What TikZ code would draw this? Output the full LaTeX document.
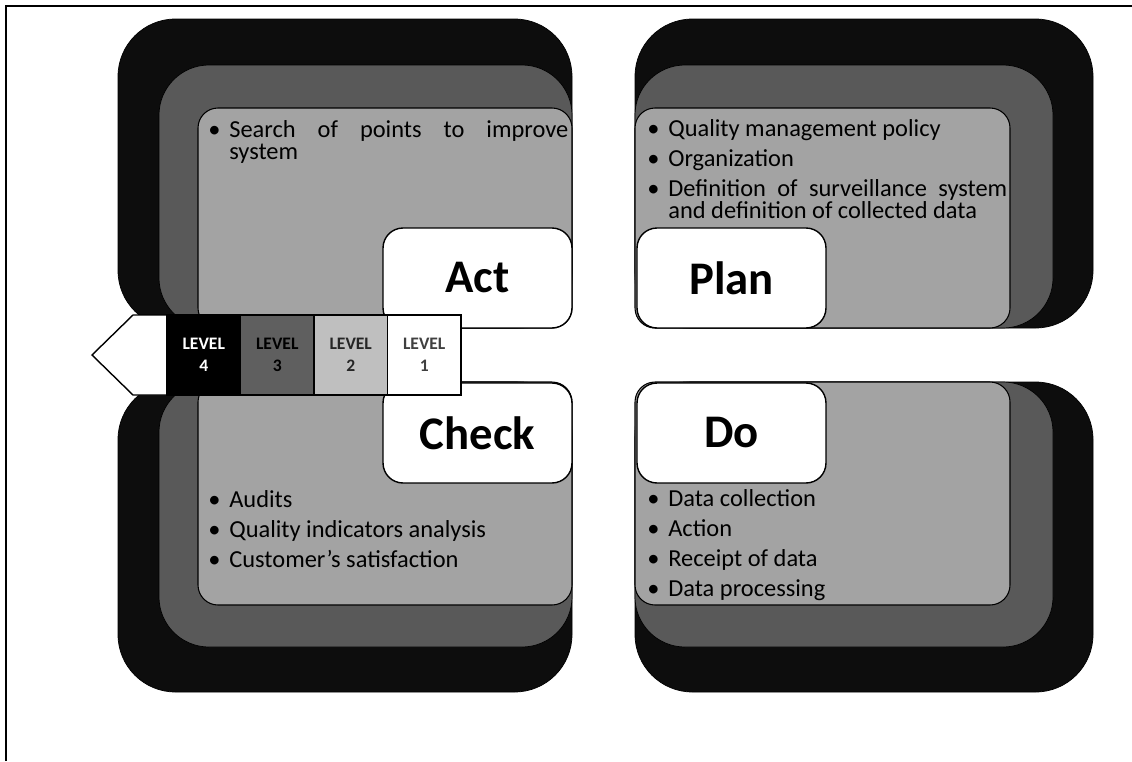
\documentclass[tikz,border=0pt]{standalone}
\usepackage{fontspec}
\setmainfont{Carlito}
\usetikzlibrary{positioning}

\definecolor{layerblack}{HTML}{0D0D0D}
\definecolor{layerdark}{HTML}{595959}
\definecolor{layerlight}{HTML}{A3A3A3}
\definecolor{levthree}{HTML}{5F5F5F}
\definecolor{levtwo}{HTML}{BFBFBF}

\newlength{\pxu}
\setlength{\pxu}{0.02cm}
\newcommand{\pitem}[1]{\par\noindent\hangindent=21\pxu\hangafter=1\makebox[21\pxu][l]{\textbullet}#1\par}

\begin{document}
\begin{tikzpicture}[x=0.02cm,y=-0.02cm]

        % Setup the styles for the layers and boxes
        \tikzset{outer layer/.style={draw=black, line width=0.4pt, fill=layerblack, rounded corners=1.15cm},
                 middle layer/.style={draw=black, line width=0.4pt, fill=layerdark, rounded corners=1.0cm},
                 inner layer/.style={draw=black, line width=0.6pt, fill=layerlight, rounded corners=0.4cm},
                 title box/.style={draw=black, line width=0.8pt, fill=white, rounded corners=0.4cm,
                                   minimum width=3.78cm, minimum height=2cm,
                                   font=\fontsize{26.6}{30}\selectfont\bfseries},
                 item text/.style={anchor=north west, inner sep=0pt, text width=7.2cm, align=justify,
                                   font=\fontsize{13.9}{12.5}\selectfont,
                                   execute at begin node={\setlength{\parskip}{8\pxu}\lineskiplimit=-20pt}},
                 level box/.style={draw=black, line width=0.8pt, minimum width=1.47cm, minimum height=1.6cm,
                                   inner sep=0pt, outer sep=0pt, align=center,
                                   font=\fontsize{10}{12.5}\selectfont\bfseries}}

        \useasboundingbox (0,0) rectangle (1132,761);
        \draw[line width=0.8pt] (6,761) -- (6,6) -- (1132,6);

        % Act
        \draw[outer layer] (118,19) rectangle (572,328);
        \draw[middle layer] (159,65) rectangle (572,328);
        \draw[inner layer] (198,108) rectangle (572,328);
        % Plan
        \draw[outer layer] (635,19) rectangle (1093,328);
        \draw[middle layer] (635,65) rectangle (1053,328);
        \draw[inner layer] (635,108) rectangle (1010,328);
        % Check
        \draw[outer layer] (118,382) rectangle (572,692);
        \draw[middle layer] (159,382) rectangle (572,647);
        \draw[inner layer] (198,382) rectangle (572,605);
        % Do
        \draw[outer layer] (635,382) rectangle (1093,692);
        \draw[middle layer] (635,382) rectangle (1053,647);
        \draw[inner layer] (635,382) rectangle (1010,605);

        % Draw the titles
        \node[title box] at (477.5,278)     (act)     {Act};
        \node[title box] at (731.5,278)     (plan)    {Plan};
        \node[title box] at (477.5,433)     (check)   {Check};
        \node[title box] at (731.5,433)     (do)      {Do};

        % Draw the lists
        \node[item text] at (208,107)     (acttxt)
            {\pitem{Search of points to improve\linebreak system}};
        \node[item text] at (647,106)     (plantxt)
            {\pitem{Quality management policy}
             \pitem{Organization}
             \pitem{Definition of surveillance system\linebreak and definition of collected data}};
        \node[item text] at (208,477)     (checktxt)
            {\pitem{Audits}
             \pitem{Quality indicators analysis}
             \pitem{Customer’s satisfaction}};
        \node[item text] at (647,476)     (dotxt)
            {\pitem{Data collection}
             \pitem{Action}
             \pitem{Receipt of data}
             \pitem{Data processing}};

        % Draw the level bar
        \draw[line width=0.8pt, fill=white] (167,315) -- (133,315) -- (92,355) -- (133,395) -- (167,395) -- cycle;
        \node[level box, fill=black, text=white, anchor=west] at (167,355)     (lvfour)     {LEVEL\\4};
        \node[level box, fill=levthree, text=black, right=0pt of lvfour]     (lvthree)    {LEVEL\\3};
        \node[level box, fill=levtwo, text=black!85, right=0pt of lvthree]   (lvtwo)      {LEVEL\\2};
        \node[level box, fill=white, text=black!75, right=0pt of lvtwo]      (lvone)      {LEVEL\\1};
    \end{tikzpicture}
\end{document}
